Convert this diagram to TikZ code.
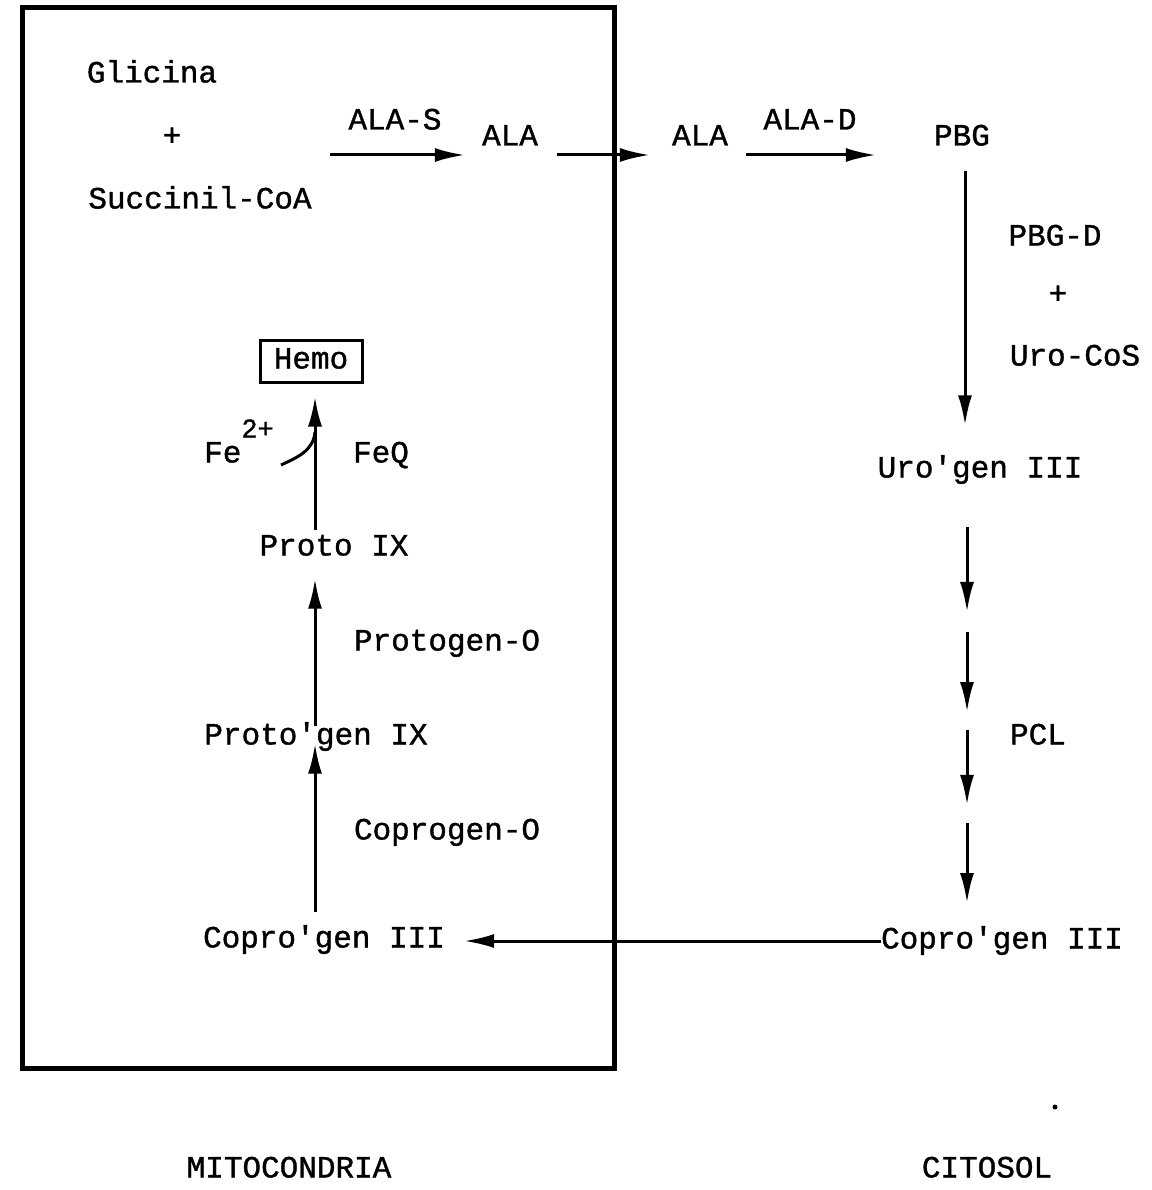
\documentclass[tikz,border=0pt]{standalone}
\usepackage{fontspec}
\setmonofont{Liberation Mono}[FakeBold=1.2]
\usetikzlibrary{arrows.meta, positioning, calc}

\begin{document}
\begin{tikzpicture}[
    x=1pt, y=-1pt,
    every node/.style={font=\ttfamily\fontsize{31}{36}\selectfont, inner sep=0pt,
        text height=21pt, text depth=6pt},
    hemobox/.style={
        draw,
        line width=3pt,
        minimum width=102pt,
        minimum height=42pt
    },
    arrow/.style={
        -{Latex[length=30pt, width=14pt]},
        line width=3pt
    },
    membrane/.style={
        draw,
        line width=5pt
    }
]
\useasboundingbox (0,0) rectangle (1151,1190);

\draw[membrane] (22,8) rectangle (614,1068);

\node (glicina) at (152,75) {Glicina};
\node (plus) at (172,138) {+};
\node (succinil) at (200,201) {Succinil-CoA};

\node (alaM) at (510,138) {ALA};
\node (alaC) at (700,138) {ALA};
\node (pbg) at (962,138) {PBG};
\node (alas) at (395,122) {ALA-S};
\node (alad) at (810,122) {ALA-D};
\coordinate (substrates) at (330,155);

\node (pbgd) at (1055,238) {PBG-D};
\node (plusB) at (1058,296) {+};
\node (urocos) at (1075,358) {Uro-CoS};
\node (urogen) at (980,470) {Uro'gen III};
\node (pcl) at (1038,737) {PCL};
\node (coproC) at (1002,941) {Copro'gen III};

\node (coproM) at (324,940) {Copro'gen III};
\node (coprogenO) at (447,832) {Coprogen-O};
\node (protogen) at (316,737) {Proto'gen IX};
\node (protogenO) at (447,643) {Protogen-O};
\node (proto) at (334,548) {Proto IX};
\node (fe) at (239,455) {Fe\raisebox{25pt}{\fontsize{27}{30}\selectfont 2+}};
\node (feq) at (381,455) {FeQ};
\node[hemobox] (hemo) at (311,361) {Hemo};

\node (mito) at (289,1170) {MITOCONDRIA};
\node (cito) at (987,1170) {CITOSOL};

\coordinate (col) at (315,0);
\coordinate (dashtop) at (967,527);
\coordinate (dashbot) at (967,903);

\draw[arrow] (substrates) -- ([xshift=-17pt, yshift=-17pt]alaM.west);
\draw[arrow] ([xshift=19pt, yshift=-17pt]alaM.east) -- ([xshift=-22pt, yshift=-17pt]alaC.west);
\draw[arrow] ([xshift=18pt, yshift=-17pt]alaC.east) -- ([xshift=-58pt, yshift=-17pt]pbg.west);

\draw[arrow] ([xshift=3pt, yshift=-19pt]pbg.south) -- ([xshift=3pt, yshift=31pt]pbg.south |- urogen.north);
\foreach \a/\b in {0/0.226, 0.279/0.492, 0.54/0.739, 0.787/1}
    \draw[arrow] ($(dashtop)!\a!(dashbot)$) -- ($(dashtop)!\b!(dashbot)$);

\draw[arrow] (coproC.west) -- ([xshift=19pt]coproM.east |- coproC.west);

\draw[arrow] ([yshift=14pt]col |- coproM.north) -- ([yshift=7pt]col |- protogen.south);
\draw[arrow] ([yshift=-3pt]col |- protogen.north) -- ([yshift=-17pt]col |- proto.south);
\draw[arrow] ([yshift=4pt]col |- proto.north) -- ([yshift=-13pt]col |- hemo.south);
\draw[line width=3pt] ([xshift=7pt, yshift=-10pt]fe.east) to[out=25, in=-95] ([yshift=23pt]col |- feq);

\fill (1055,1107) circle (2.5pt);

\end{tikzpicture}
\end{document}
